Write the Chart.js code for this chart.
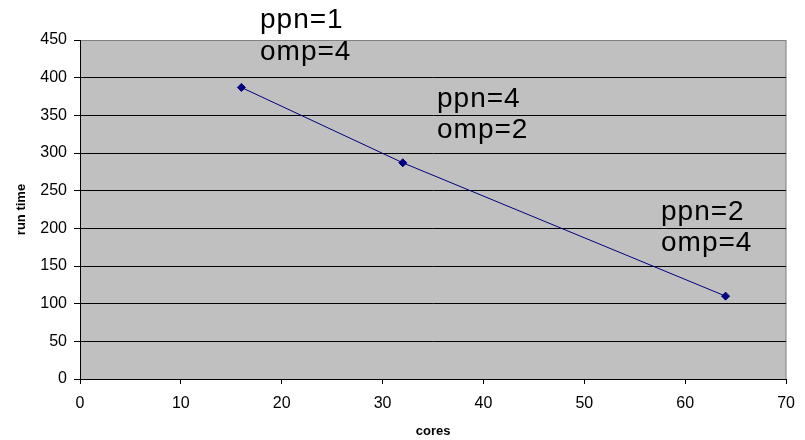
<!DOCTYPE html>
<html>
<head>
<meta charset="utf-8">
<script src="https://cdn.jsdelivr.net/npm/chart.js@4"></script>
<style>
  html, body { margin: 0; padding: 0; background: #fff; }
  #wrap { width: 805px; height: 440px; }
</style>
</head>
<body>
<div id="wrap"><canvas id="c" width="805" height="440"></canvas></div>
<script>
// Measured run times for each core count
const cores = [16, 32, 64];
const runTime = [387, 287, 110];

// Process / thread split used for each run
const ppnLabels = ['ppn=1', 'ppn=4', 'ppn=2'];
const ompLabels = ['omp=4', 'omp=2', 'omp=4'];

// Axis ranges and steps
const xRange = [0, 70];
const xStep = 10;
const yRange = [0, 450];
const yStep = 50;

const FONT = '"Liberation Sans", Arial, sans-serif';

// Text box placement (left edge, baselines of the two lines)
const boxLayout = [
  { left: 260, top: 28, bottom: 60 },
  { left: 437, top: 107, bottom: 138 },
  { left: 661, top: 220, bottom: 251 }
];

const plotBackground = {
  id: 'plotBackground',
  beforeDraw(chart) {
    const { ctx, chartArea: a } = chart;
    ctx.save();
    ctx.fillStyle = '#C0C0C0';
    ctx.fillRect(a.left, a.top, a.right - a.left, a.bottom - a.top);
    ctx.strokeStyle = '#808080';
    ctx.lineWidth = 1;
    ctx.strokeRect(Math.round(a.left) + 0.5, Math.round(a.top) + 0.5,
                   Math.round(a.right - a.left) - 0.5, Math.round(a.bottom - a.top));
    ctx.restore();
  }
};

const runLabels = {
  id: 'runLabels',
  afterDraw(chart) {
    const { ctx } = chart;
    ctx.save();
    ctx.fillStyle = '#000';
    ctx.font = '28px ' + FONT;
    ctx.letterSpacing = '1px';
    ctx.textAlign = 'left';
    ctx.textBaseline = 'alphabetic';
    boxLayout.forEach((b, i) => {
      ctx.fillText(ppnLabels[i], b.left, b.top);
      ctx.fillText(ompLabels[i], b.left, b.bottom);
    });
    ctx.restore();
  }
};

new Chart(document.getElementById('c'), {
  type: 'scatter',
  data: {
    datasets: [{
      data: cores.map((c, i) => ({ x: c, y: runTime[i] })),
      showLine: true,
      borderColor: '#000080',
      borderWidth: 1,
      backgroundColor: '#000080',
      pointStyle: 'rectRot',
      pointRadius: 4,
      pointBorderWidth: 1,
      pointBorderColor: '#000080'
    }]
  },
  options: {
    responsive: false,
    animation: false,
    layout: { padding: { left: 0, top: 40, right: 17, bottom: 0 } },
    plugins: {
      legend: { display: false },
      tooltip: { enabled: false }
    },
    scales: {
      x: {
        type: 'linear',
        min: xRange[0],
        max: xRange[1],
        ticks: {
          stepSize: xStep,
          color: '#000',
          font: { family: FONT, size: 16 },
          padding: 10,
          maxRotation: 0
        },
        grid: {
          drawOnChartArea: false,
          drawTicks: true,
          tickLength: 5,
          color: '#000'
        },
        border: { color: '#000', width: 1 },
        title: {
          display: true,
          text: 'cores',
          color: '#000',
          font: { family: FONT, size: 13, weight: 'bold' },
          padding: { top: 0, bottom: 1 }
        },
        afterFit(scale) { scale.height = 61; }
      },
      y: {
        min: yRange[0],
        max: yRange[1],
        ticks: {
          stepSize: yStep,
          color: '#000',
          font: { family: FONT, size: 16 },
          padding: 7
        },
        grid: {
          drawTicks: true,
          tickLength: 6,
          color: (c) => (c.tick && c.tick.value === yRange[1]) ? '#808080' : '#000',
          tickColor: '#000'
        },
        border: { color: '#000', width: 1 },
        title: {
          display: true,
          text: 'run time',
          color: '#000',
          font: { family: FONT, size: 13, weight: 'bold' },
          padding: { top: 14, bottom: 0 }
        },
        afterFit(scale) { scale.width = 80; }
      }
    }
  },
  plugins: [plotBackground, runLabels]
});
</script>
</body>
</html>
